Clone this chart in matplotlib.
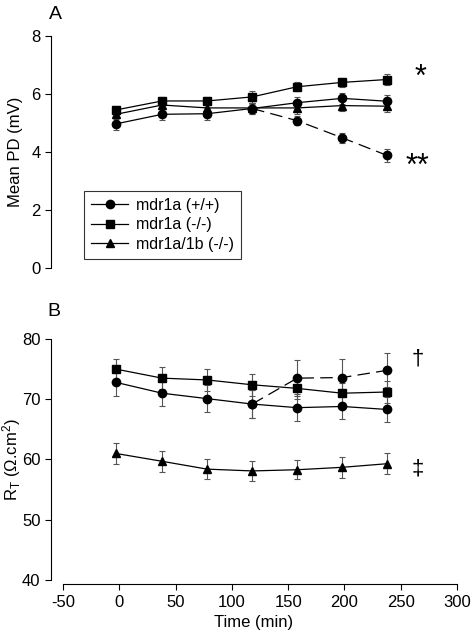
import matplotlib
matplotlib.use('Agg')
import matplotlib.pyplot as plt
from matplotlib.lines import Line2D
import numpy as np

plt.rcParams['font.family'] = ['Liberation Sans', 'DejaVu Sans']
plt.rcParams['mathtext.default'] = 'regular'
plt.rcParams['axes.unicode_minus'] = False

### data
time = [-3, 38, 78, 118, 158, 198, 238]
time_late = [118, 158, 198, 238]

# panel A : mean PD (mV)
pd_wt = [4.97, 5.30, 5.32, 5.50, 5.70, 5.85, 5.75]
pd_wt_err = [0.2, 0.2, 0.2, 0.2, 0.2, 0.2, 0.22]
pd_wt_drug = [5.50, 5.08, 4.49, 3.88]
pd_wt_drug_err = [0.2, 0.15, 0.18, 0.22]
pd_ko = [5.45, 5.76, 5.76, 5.90, 6.25, 6.40, 6.50]
pd_ko_err = [0.15, 0.15, 0.15, 0.2, 0.15, 0.15, 0.2]
pd_dko = [5.30, 5.62, 5.52, 5.52, 5.52, 5.60, 5.58]
pd_dko_err = [0.15, 0.15, 0.15, 0.15, 0.2, 0.2, 0.2]

# panel B : RT (ohm.cm2)
rt_wt = [72.8, 71.0, 70.1, 69.2, 68.6, 68.8, 68.3]
rt_wt_err = [2.2, 2.2, 2.2, 2.3, 2.2, 2.1, 2.1]
rt_wt_drug = [69.2, 73.5, 73.6, 74.8]
rt_wt_drug_err = [2.3, 3.0, 3.0, 2.8]
rt_ko = [75.0, 73.5, 73.2, 72.4, 71.8, 71.0, 71.2]
rt_ko_err = [1.7, 1.8, 1.8, 1.8, 1.8, 1.7, 1.8]
rt_dko = [61.0, 59.7, 58.4, 58.1, 58.3, 58.7, 59.3]
rt_dko_err = [1.7, 1.7, 1.7, 1.6, 1.6, 1.7, 1.7]

labels = ['mdr1a (+/+)', 'mdr1a (-/-)', 'mdr1a/1b (-/-)']
markers = ['o', 's', '^']

fig = plt.figure(figsize=(4.71, 6.40), dpi=100)
axA = fig.add_axes([0.1083, 0.58125, 0.862, 0.3625])
axB = fig.add_axes([0.1083, 0.09375, 0.862, 0.3766])

lw = 0.9
ms = 6
fs = 12
ekw = dict(ecolor='#555555', elinewidth=0.8, capsize=2.5, capthick=0.8)

for ax, d in [(axA, (pd_wt, pd_wt_err, pd_ko, pd_ko_err, pd_dko, pd_dko_err, pd_wt_drug, pd_wt_drug_err)),
              (axB, (rt_wt, rt_wt_err, rt_ko, rt_ko_err, rt_dko, rt_dko_err, rt_wt_drug, rt_wt_drug_err))]:
    ax.errorbar(time_late, d[6], yerr=d[7], color='black', marker='o', ms=ms,
                lw=lw, ls=(0, (10, 5)), **ekw)
    ax.errorbar(time, d[0], yerr=d[1], color='black', marker='o', ms=ms, lw=lw, **ekw)
    ax.errorbar(time, d[2], yerr=d[3], color='black', marker='s', ms=ms - 0.5, lw=lw, **ekw)
    ax.errorbar(time, d[4], yerr=d[5], color='black', marker='^', ms=ms - 0.5, lw=lw, **ekw)
    ax.set_xlim(-60.7, 300)
    for s in ['top', 'right']:
        ax.spines[s].set_visible(False)
    ax.spines['left'].set_linewidth(0.8)
    ax.spines['bottom'].set_linewidth(0.8)
    ax.tick_params(direction='out', length=4, width=0.8, labelsize=fs)

# panel A
axA.set_ylim(0, 8)
axA.set_yticks([0, 2, 4, 6, 8])
axA.spines['bottom'].set_visible(False)
axA.set_xticks([])
axA.set_ylabel('Mean PD (mV)', fontsize=fs)
axA.yaxis.set_label_coords(-0.068, 0.5)
handles = [Line2D([], [], color='black', lw=lw, marker=m, ms=ms if m == 'o' else ms - 0.5)
           for m in markers]
leg = axA.legend(handles, labels, loc='lower left', bbox_to_anchor=(0.062, 0.005), fontsize=11.5,
                 frameon=True, fancybox=False, edgecolor='black', handlelength=2.3,
                 handletextpad=0.5, borderpad=0.45, labelspacing=0.28)
leg.get_frame().set_linewidth(0.8)
axA.text(268, 6.55, '*', fontsize=22, ha='center', va='center')
axA.text(265, 3.5, '**', fontsize=22, ha='center', va='center')
axA.text(-57, 8.75, 'A', fontsize=14, ha='center', va='center', clip_on=False)

# panel B
axB.set_ylim(40, 80)
axB.set_yticks([40, 50, 60, 70, 80])
axB.set_xticks([-50, 0, 50, 100, 150, 200, 250, 300])
axB.spines['bottom'].set_bounds(-50, 300)
axB.spines['bottom'].set_position(('outward', 3))
axB.set_xlabel('Time (min)', fontsize=fs)
axB.set_ylabel('R$_T$ (Ω.cm$^2$)', fontsize=fs)
axB.yaxis.set_label_coords(-0.07, 0.5)
axB.text(265, 76.6, '†', fontsize=16, ha='center', va='center')
axB.text(265, 58.4, '‡', fontsize=16, ha='center', va='center')
axB.text(-58, 84.6, 'B', fontsize=14, ha='center', va='center', clip_on=False)

plt.savefig('out.png', dpi=100)
